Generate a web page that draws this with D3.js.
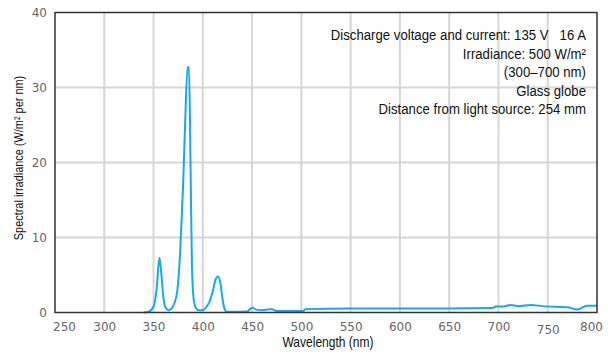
<!DOCTYPE html>
<html>
<head>
<meta charset="utf-8">
<script src="https://cdn.jsdelivr.net/npm/d3@7"></script>
<style>
  html, body { margin: 0; padding: 0; background: #fff; }
  svg { display: block; }
  .tick-label { font-family: "DejaVu Sans", sans-serif; font-size: 12px; fill: #666; }
  .narrow { font-family: "Liberation Sans Narrow", "Arial Narrow", "Liberation Sans", sans-serif; fill: #111; white-space: pre; }
</style>
</head>
<body>
<script>
// ---- data ----
const wavelengths = [340, 345, 350, 353, 356, 358, 360, 362, 365, 368, 371, 374, 377, 380, 382, 384.5, 386, 387.5, 389, 391, 393, 396, 400, 404, 407, 410, 413, 415.5, 418, 420, 422, 424, 445, 450, 455, 460, 466, 470, 475, 502, 504, 550, 600, 650, 694, 697, 705, 712, 720, 733, 745, 770, 780, 790, 800];
const irradiance  = [0, 0.1, 0.8, 3, 7.3, 5, 2, 0.7, 0.3, 0.5, 1.2, 2.8, 8, 17, 25, 32.7, 32.7, 20, 6, 1.5, 0.6, 0.3, 0.3, 0.8, 1.5, 2.8, 4.4, 4.8, 3.8, 1.8, 0.5, 0.1, 0.15, 0.65, 0.35, 0.3, 0.4, 0.45, 0.2, 0.2, 0.45, 0.55, 0.55, 0.55, 0.6, 0.8, 0.8, 1.0, 0.85, 1.0, 0.85, 0.7, 0.4, 0.9, 0.9];
const xTicks = [250, 300, 350, 400, 450, 500, 550, 600, 650, 700, 750, 800];
const yTicks = [0, 10, 20, 30, 40];
const annotations = [
  "Discharge voltage and current: 135 V\u00a0\u00a0\u00a016 A",
  "Irradiance: 500 W/m²",
  "(300–700 nm)",
  "Glass globe",
  "Distance from light source: 254 mm"
];

const W = 608, H = 354;
const pLeft = 55, pRight = 597, pTop = 12.5, pBottom = 312.5;

const svg = d3.select("body").append("svg").attr("width", W).attr("height", H);

const x = d3.scaleLinear().domain([250, 800]).range([pLeft, pRight]);
const y = d3.scaleLinear().domain([0, 40]).range([pBottom, pTop]);

// grid
const grid = svg.append("g");
grid.selectAll("line.v").data(xTicks.filter(d => d > 250 && d < 800)).enter().append("line")
  .attr("x1", d => x(d)).attr("x2", d => x(d)).attr("y1", pTop).attr("y2", pBottom)
  .attr("stroke", "#d6d6d6").attr("stroke-width", 2);
grid.selectAll("line.h").data(yTicks.filter(d => d > 0 && d < 40)).enter().append("line")
  .attr("x1", pLeft).attr("x2", pRight).attr("y1", d => y(d)).attr("y2", d => y(d))
  .attr("stroke", "#d6d6d6").attr("stroke-width", 2);

// annotation text (condensed)
const annY = [40, 58.5, 77, 95.5, 114];
annotations.forEach((t, i) => {
  svg.append("text").attr("class", "narrow").attr("text-anchor", "end")
    .attr("transform", `translate(586,${annY[i]}) scale(0.91,1)`)
    .style("font-size", "14.5px").text(t);
});

// line
const data = wavelengths.map((w, i) => [w, irradiance[i]]);
const line = d3.line().x(d => x(d[0])).y(d => y(d[1])).curve(d3.curveMonotoneX);
svg.append("path").datum(data).attr("d", line)
  .attr("fill", "none").attr("stroke", "#16aae6").attr("stroke-width", 2);

// frame
svg.append("rect").attr("x", pLeft).attr("y", pTop).attr("width", pRight - pLeft).attr("height", pBottom - pTop)
  .attr("fill", "none").attr("stroke", "#333").attr("stroke-width", 1.5);

// x axis
const xAxis = svg.append("g").attr("transform", `translate(0,${pBottom})`)
  .call(d3.axisBottom(x).tickValues(xTicks).tickSize(0).tickPadding(9));
xAxis.select(".domain").remove();
xAxis.selectAll("text").attr("class", "tick-label").attr("fill", null)
  .attr("dx", d => d === 250 ? 9 : (d === 800 ? -6 : 0))
  .attr("dy", d => d === 750 ? "1.0em" : "0.8em");

// y axis
const yAxis = svg.append("g").attr("transform", `translate(${pLeft},0)`)
  .call(d3.axisLeft(y).tickValues(yTicks).tickSize(0).tickPadding(8));
yAxis.select(".domain").remove();
yAxis.selectAll("text").attr("class", "tick-label").attr("fill", null);

// axis titles
svg.append("text").attr("class", "narrow").attr("text-anchor", "middle")
  .attr("transform", "translate(328,347) scale(0.86,1)").style("font-size", "14px").text("Wavelength (nm)");
svg.append("text").attr("class", "narrow").attr("text-anchor", "middle")
  .attr("transform", "translate(23,158) rotate(-90) scale(0.84,1)").style("font-size", "13px")
  .text("Spectral irradiance (W/m² per nm)");
</script>
</body>
</html>
